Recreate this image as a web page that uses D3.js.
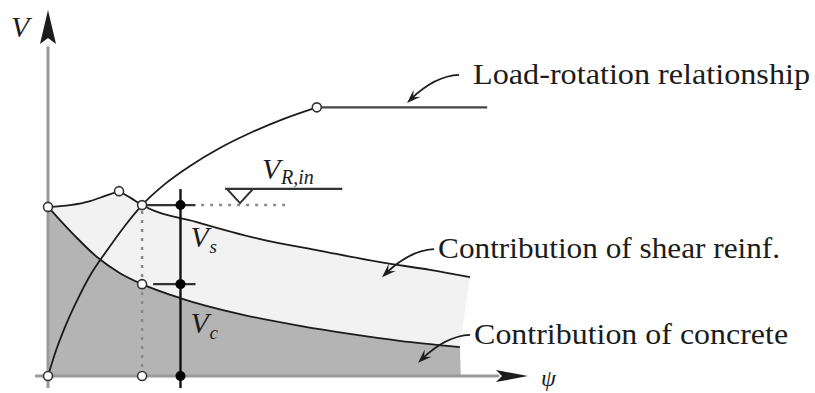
<!DOCTYPE html>
<html>
<head>
<meta charset="utf-8">
<script src="https://cdn.jsdelivr.net/npm/d3@7"></script>
<style>
  html, body { margin: 0; background: #fff; }
  svg { display: block; }
</style>
</head>
<body>
<svg id="chart" width="815" height="393"></svg>
<script>
// Punching shear: load-rotation curve against the resistance split into
// concrete and shear-reinforcement contributions (schematic units, 0-100).

// load-rotation relationship [psi, V]
const loadRotation = [[0, 0], [1.7, 7.1], [3.8, 14.2], [6.3, 21.3], [9.2, 28.4], [12.5, 34.7],
  [16.0, 41.0], [19.6, 46.7], [24.4, 52.5], [29.6, 57.4], [35.8, 62.3], [42.1, 66.4],
  [49.0, 70.2], [56.0, 73.4]];
const loadPlateau = [[56.0, 73.4], [91.5, 73.4]];

// total resistance (concrete + shear reinforcement), rising then falling branch
const resistanceRising = [[0, 46.2], [4.6, 46.7], [8.8, 47.8], [11.9, 49.2], [14.8, 50.5]];
const resistanceFalling = [[14.8, 50.5], [17.3, 48.6], [19.6, 46.7], [31.7, 41.8], [44.2, 37.4],
  [56.7, 34.2], [69.2, 31.1], [79.6, 29.0], [87.9, 27.0]];

// concrete contribution
const concreteContribution = [[0, 46.2], [2.5, 42.6], [5.6, 38.3], [10.2, 32.5], [15.0, 28.1],
  [19.6, 25.1], [27.5, 21.3], [40.0, 16.9], [52.5, 13.7], [62.9, 11.5], [73.3, 9.6], [85.8, 7.9]];
const concreteEndPsi = 86.0;

// failure point: intersection of load-rotation and resistance curves
const failurePsi = 19.6;
const failureV = 46.7;
const concreteAtFailure = 25.1;
const peakPoint = [14.8, 50.5];
const yieldPoint = [56.0, 73.4];

// measuring line for V_s / V_c
const measurePsi = 27.6;

// V_R,in level marker
const vRin = 51.1;
const vRinSpan = [36.9, 61.3];
const vRinMarkPsi = 40.0;
const levelDotSpan = [31.9, 49.6];

// labels and arrows pointing at the curves
const annotations = [
  { text: "Load-rotation relationship", tip: [74.8, 74.6] },
  { text: "Contribution of shear reinf.", tip: [69.6, 27.0] },
  { text: "Contribution of concrete", tip: [77.1, 3.6] }
];
const annotationTextDx = [66, 56, 56];
const annotationTextLen = [337, 342, 314];

const svg = d3.select("#chart");
const x = d3.scaleLinear().domain([0, 100]).range([48, 528]);
const y = d3.scaleLinear().domain([0, 100]).range([376, 10]);

const curve = d3.line().x(d => x(d[0])).y(d => y(d[1])).curve(d3.curveMonotoneX);
const straight = d3.line().x(d => x(d[0])).y(d => y(d[1]));

const ink = "#1c1c1c";
const serif = "'Liberation Serif', 'DejaVu Serif', serif";

// --- filled regions ---
const topPath = curve(resistanceRising) + curve(resistanceFalling).replace(/^M/, "L");
const lastC = concreteContribution[concreteContribution.length - 1];
svg.append("path")
  .attr("d", topPath + "L" + x(lastC[0]) + "," + y(lastC[1]) + "L" + x(lastC[0]) + "," + y(0) + "L" + x(0) + "," + y(0) + "Z")
  .attr("fill", "#f2f2f2");
svg.append("path")
  .attr("d", curve(concreteContribution) + "L" + x(concreteEndPsi) + "," + y(0) + "L" + x(0) + "," + y(0) + "Z")
  .attr("fill", "#b4b4b4");

// --- axes with arrowheads ---
svg.append("line").attr("x1", x(0)).attr("x2", x(0)).attr("y1", y(-3.3)).attr("y2", y(90))
  .attr("stroke", "#9a9a9a").attr("stroke-width", 3);
svg.append("line").attr("x1", x(-2.7)).attr("x2", x(94)).attr("y1", y(0)).attr("y2", y(0))
  .attr("stroke", "#9a9a9a").attr("stroke-width", 3);
svg.append("path")
  .attr("d", `M${x(0)},${y(100)} L${x(0) + 8},${y(100) + 34} L${x(0)},${y(100) + 28} L${x(0) - 8},${y(100) + 34} Z`)
  .attr("fill", ink);
svg.append("path")
  .attr("d", `M${x(100)},${y(0)} L${x(100) - 32},${y(0) + 6} L${x(100) - 26},${y(0)} L${x(100) - 32},${y(0) - 6} Z`)
  .attr("fill", ink);

// --- dotted guides ---
svg.append("line").attr("x1", x(failurePsi)).attr("x2", x(failurePsi))
  .attr("y1", y(failureV) + 6).attr("y2", y(0) - 4)
  .attr("stroke", "#8a8a8a").attr("stroke-width", 2.5).attr("stroke-dasharray", "3,6");
svg.append("line").attr("x1", x(levelDotSpan[0])).attr("x2", x(levelDotSpan[1]))
  .attr("y1", y(failureV)).attr("y2", y(failureV))
  .attr("stroke", "#8a8a8a").attr("stroke-width", 2.5).attr("stroke-dasharray", "3,6");

// --- curves ---
svg.append("path").attr("d", curve(concreteContribution))
  .attr("fill", "none").attr("stroke", ink).attr("stroke-width", 1.8);
svg.append("path").attr("d", topPath)
  .attr("fill", "none").attr("stroke", ink).attr("stroke-width", 1.8);
svg.append("path").attr("d", curve(loadRotation))
  .attr("fill", "none").attr("stroke", ink).attr("stroke-width", 1.8);
svg.append("path").attr("d", straight(loadPlateau))
  .attr("fill", "none").attr("stroke", "#444").attr("stroke-width", 2.2);

// --- measuring line with ticks ---
svg.append("line").attr("x1", x(measurePsi)).attr("x2", x(measurePsi))
  .attr("y1", y(failureV) - 16).attr("y2", y(-3.3))
  .attr("stroke", "#111").attr("stroke-width", 2.4);
svg.append("line").attr("x1", x(failurePsi)).attr("x2", x(measurePsi) + 15)
  .attr("y1", y(failureV)).attr("y2", y(failureV))
  .attr("stroke", "#333").attr("stroke-width", 2.2);
svg.append("line").attr("x1", x(failurePsi) + 11).attr("x2", x(measurePsi) + 15)
  .attr("y1", y(concreteAtFailure)).attr("y2", y(concreteAtFailure))
  .attr("stroke", "#333").attr("stroke-width", 2.2);
[failureV, concreteAtFailure, 0].forEach(v => {
  svg.append("circle").attr("cx", x(measurePsi)).attr("cy", y(v)).attr("r", 5).attr("fill", "#000");
});

// --- open key points ---
const openPoints = [[0, 0], [0, concreteContribution[0][1]], peakPoint, [failurePsi, failureV],
  [failurePsi, concreteAtFailure], [failurePsi, 0], yieldPoint];
svg.selectAll("circle.key").data(openPoints).enter().append("circle")
  .attr("class", "key")
  .attr("cx", d => x(d[0])).attr("cy", d => y(d[1])).attr("r", 4.5)
  .attr("fill", "#fff").attr("stroke", "#333").attr("stroke-width", 1.6);

// symbol with a subscript drawn as two text runs side by side
function symbol(px, py, main, sub, size, subSize, subDx, subDy) {
  svg.append("text").attr("x", px).attr("y", py).text(main)
    .attr("font-family", serif).attr("font-style", "italic").attr("font-size", size).attr("fill", ink);
  svg.append("text").attr("x", px + subDx).attr("y", py + subDy).text(sub)
    .attr("font-family", serif).attr("font-style", "italic").attr("font-size", subSize).attr("fill", ink);
}

// --- V_R,in level marker ---
svg.append("line").attr("x1", x(vRinSpan[0])).attr("x2", x(vRinSpan[1]))
  .attr("y1", y(vRin)).attr("y2", y(vRin)).attr("stroke", "#333").attr("stroke-width", 2.2);
svg.append("path")
  .attr("d", `M${x(vRinMarkPsi) - 13},${y(vRin)} L${x(vRinMarkPsi) + 13},${y(vRin)} L${x(vRinMarkPsi)},${y(failureV) - 2} Z`)
  .attr("fill", "#fff").attr("stroke", "#333").attr("stroke-width", 2);
symbol(x(vRinMarkPsi) + 22, y(vRin) - 10, "V", "R,in", 30, 20, 19, 5);

// --- axis symbols and component labels ---
svg.append("text").attr("x", 11).attr("y", 37).text("V")
  .attr("font-family", serif).attr("font-style", "italic").attr("font-size", 30).attr("fill", ink);
svg.append("text").attr("x", 541).attr("y", 386).text("ψ")
  .attr("font-family", serif).attr("font-style", "italic").attr("font-size", 24).attr("fill", ink);

symbol(x(measurePsi) + 10, y((failureV + concreteAtFailure) / 2 + 2) + 10, "V", "s", 30, 19, 19, 6);
symbol(x(measurePsi) + 10, y(concreteAtFailure / 2 + 2) + 10, "V", "c", 30, 19, 19, 6);

// --- annotations with curved arrows ---
annotations.forEach((a, i) => {
  const tx = x(a.tip[0]), ty = y(a.tip[1]);
  const sx = tx + 52, sy = ty - 28;
  const cx = sx - 24, cy = sy + 1;
  svg.append("path").attr("d", `M${sx},${sy} Q${cx},${cy} ${tx + 4},${ty - 4}`)
    .attr("fill", "none").attr("stroke", ink).attr("stroke-width", 1.8);
  const ang = Math.atan2(ty - cy, tx - cx);
  const len = 14, half = 5;
  const bx = tx - len * Math.cos(ang), by = ty - len * Math.sin(ang);
  const nx = -Math.sin(ang), ny = Math.cos(ang);
  svg.append("path")
    .attr("d", `M${tx},${ty} L${bx + nx * half},${by + ny * half} L${tx - 0.6 * len * Math.cos(ang)},${ty - 0.6 * len * Math.sin(ang)} L${bx - nx * half},${by - ny * half} Z`)
    .attr("fill", ink);
  svg.append("text").attr("x", tx + annotationTextDx[i]).attr("y", ty - 19)
    .attr("font-family", serif).attr("font-size", 29).attr("fill", ink)
    .attr("textLength", annotationTextLen[i]).attr("lengthAdjust", "spacingAndGlyphs")
    .text(a.text);
});
</script>
</body>
</html>
